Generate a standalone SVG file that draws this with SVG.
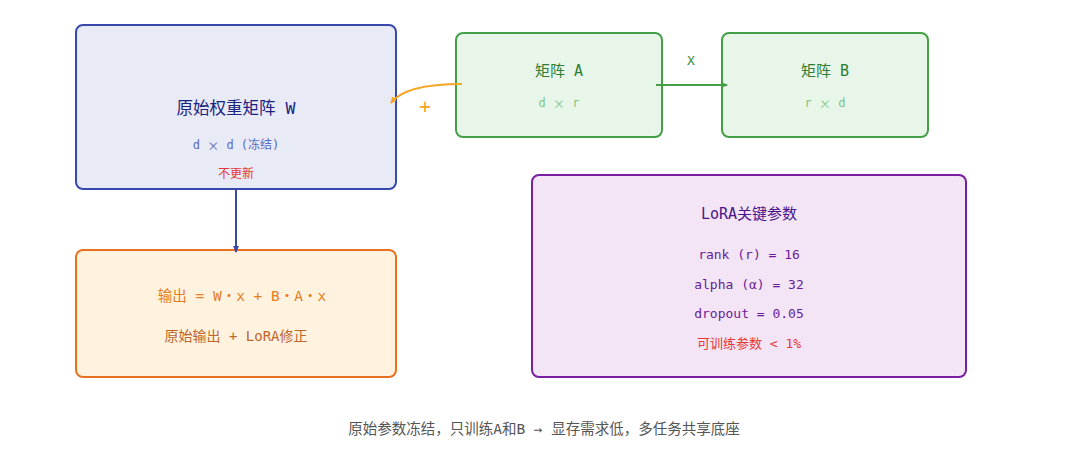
<svg xmlns="http://www.w3.org/2000/svg" width="1080" height="459" viewBox="0 0 1080 459">
<style>
text{font-family:"DejaVu Sans Mono","Noto Sans CJK SC",monospace;text-anchor:middle;dominant-baseline:central}
.cjk{font-family:"Noto Sans CJK SC",sans-serif}
.box{stroke-width:2}
</style>
<defs>
<marker id="ag" markerWidth="8" markerHeight="8" refX="6" refY="4" orient="auto" markerUnits="userSpaceOnUse"><path d="M0,1 L7,4 L0,7 Z" fill="#43a047"/></marker>
<marker id="ab" markerWidth="8" markerHeight="8" refX="6" refY="4" orient="auto" markerUnits="userSpaceOnUse"><path d="M0,1 L7,4 L0,7 Z" fill="#3949ab"/></marker>
<marker id="ao" markerWidth="8" markerHeight="8" refX="6" refY="4" orient="auto" markerUnits="userSpaceOnUse"><path d="M0,1 L7,4 L0,7 Z" fill="#f5a623"/></marker>
</defs>
<rect width="1080" height="459" fill="#ffffff"/>
<g id="nodeW">
<rect class="box" x="76" y="25" width="320" height="164" rx="7" fill="#e8eaf6" stroke="#3949ab"/>
<text x="236" y="108" font-size="16.5" fill="#1a237e">原始权重矩阵 W</text>
<text x="236" y="145" font-size="12" fill="#5c6bc0">d <tspan class="cjk">×</tspan> d (冻结)</text>
<text x="236" y="174" font-size="12" fill="#e53935">不更新</text>
</g>
<g id="nodeA">
<rect class="box" x="456" y="33" width="206" height="104" rx="7" fill="#e8f5e9" stroke="#43a047"/>
<text x="559" y="71" font-size="15" fill="#2e7d32">矩阵 A</text>
<text x="559" y="103" font-size="12" fill="#81c784">d <tspan class="cjk">×</tspan> r</text>
</g>
<g id="nodeB">
<rect class="box" x="722" y="33" width="206" height="104" rx="7" fill="#e8f5e9" stroke="#43a047"/>
<text x="825" y="71" font-size="15" fill="#2e7d32">矩阵 B</text>
<text x="825" y="103" font-size="12" fill="#81c784">r <tspan class="cjk">×</tspan> d</text>
</g>
<g id="nodeOut">
<rect class="box" x="76" y="250" width="320" height="127" rx="7" fill="#fff3e0" stroke="#e8711f"/>
<text x="242" y="296" font-size="14.5" fill="#e67e22">输出 = W・x + B・A・x</text>
<text x="236" y="336" font-size="14" fill="#c0652a">原始输出 + LoRA修正</text>
</g>
<g id="nodeParams">
<rect class="box" x="532" y="175" width="434" height="202" rx="7" fill="#f3e5f5" stroke="#7b1fa2"/>
<text x="749" y="214" font-size="15" fill="#4a148c">LoRA关键参数</text>
<text x="749" y="254" font-size="13" fill="#6a1b9a">rank (r) = 16</text>
<text x="749" y="284" font-size="13" fill="#6a1b9a">alpha (α) = 32</text>
<text x="749" y="313" font-size="13" fill="#6a1b9a">dropout = 0.05</text>
<text x="749" y="343" font-size="13" fill="#e53935">可训练参数 &lt; 1%</text>
</g>
<g id="connectors" fill="none">
<path d="M236,189 L236,252" stroke="#3949ab" stroke-width="2" marker-end="url(#ab)"/>
<path d="M656,85 L727,85" stroke="#43a047" stroke-width="2" marker-end="url(#ag)"/>
<path d="M462,84 C430,84 402,88 391,103" stroke="#f5a623" stroke-width="2" marker-end="url(#ao)"/>
<text x="691" y="60" font-size="13" fill="#388e3c" stroke="none">X</text>
<text x="425" y="106" font-size="20" fill="#f5a623" stroke="none">+</text>
</g>
<g id="footer">
<text x="544" y="429" font-size="14.5" fill="#555555">原始参数冻结，只训练A和B → 显存需求低，多任务共享底座</text>
</g>
</svg>
